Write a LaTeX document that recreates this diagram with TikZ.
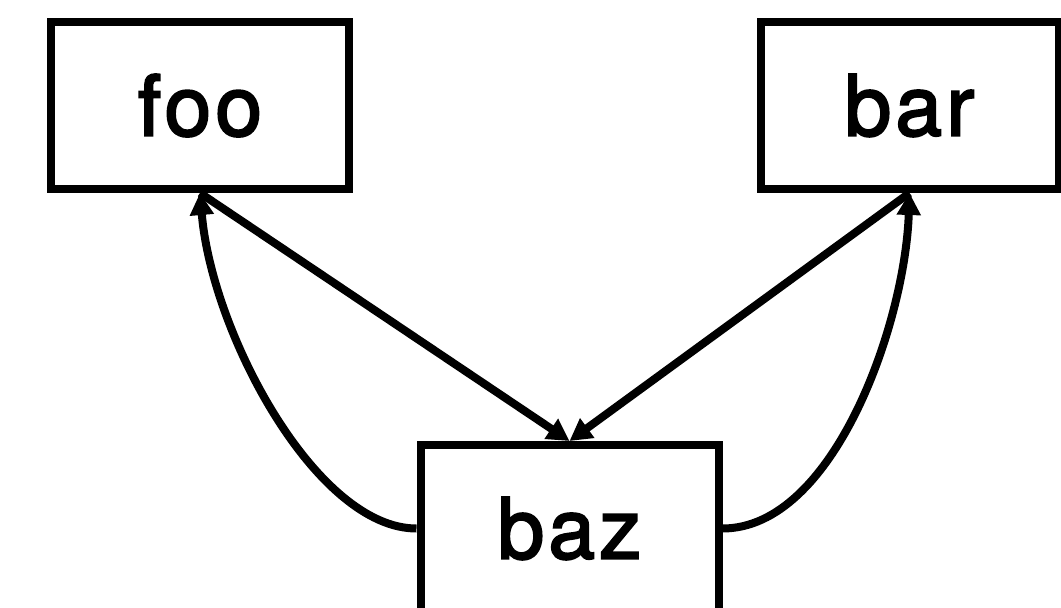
\documentclass[tikz,border=0pt]{standalone}
\usepackage{fontspec}
\setmainfont{TeX Gyre Heros}
\newfontfamily\medfont[FakeBold=2.5,LetterSpace=5]{TeX Gyre Heros}
\usetikzlibrary{arrows.meta}
\begin{document}
\begin{tikzpicture}[x=1pt,y=-1pt,
  box/.style={draw,line width=8pt,minimum width=298pt,minimum height=167pt,inner sep=0pt,font=\medfont\fontsize{84}{90}\selectfont},
  conn/.style={line width=8pt,-{Triangle[length=22pt,width=23pt]}}]
\useasboundingbox (0,0) rectangle (1061,608);
\clip (0,0) rectangle (1061,608);
\node[box] (foo) at (200,105.5) {foo};
\node[box] (bar) at (909.5,105.5) {bar};
\node[box] (baz) at (569.5,528.5) {baz};
\draw[conn] (foo.south) -- (baz.north);
\draw[conn] (bar.south) -- (baz.north);
\draw[conn] (baz.west) .. controls +(-100,0) and +(12,141) .. (foo.south);
\draw[conn] (baz.east) .. controls +(111,0) and +(-4.5,131) .. (bar.south);
\end{tikzpicture}
\end{document}
